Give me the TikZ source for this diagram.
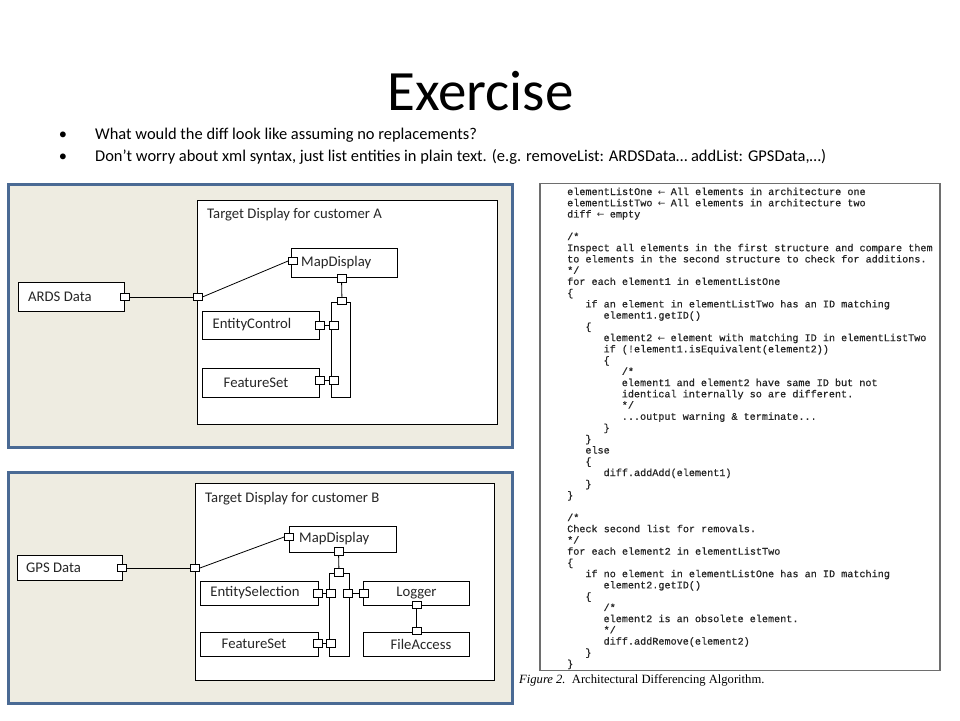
\documentclass[tikz,border=0pt]{standalone}
\usepackage{fontspec}
\setmainfont{Carlito}
\newfontfamily\codefont[FakeBold=0.6]{Liberation Mono}
\newfontfamily\arrfont{DejaVu Sans}
\newfontfamily\capfont{Liberation Serif}
\newcommand\arr{\makebox[6.1pt][c]{\arrfont\fontsize{9}{10}\selectfont ←}}
\definecolor{framebl}{HTML}{4A6A94}
\definecolor{tanbg}{HTML}{EEECE1}
\definecolor{codeln}{HTML}{6E6E6E}
\tikzset{
  panel/.style={draw=framebl, line width=3pt, fill=tanbg},
  inner/.style={draw=black, line width=0.8pt, fill=white},
  comp/.style={draw=black, line width=0.8pt, fill=white, inner sep=0pt},
  port/.style={draw=black, line width=0.8pt, fill=white, minimum width=9pt, minimum height=7.5pt, inner sep=0pt},
  lbl/.style={font=\fontsize{14.7}{16}\selectfont, inner sep=0pt, text=black!85},
  wire/.style={draw=black, line width=0.8pt},
  code/.style={font=\fontsize{10.15}{11}\selectfont\codefont, inner sep=0pt, anchor=base west, text=black!85},
  bul/.style={font=\fontsize{16.45}{18}\selectfont, inner sep=0pt},
}
\newcommand\cl[3]{\node[code] (c#2) at ({567+18.2*#1},{195+11.24*(#2-1)}) {#3};}
\begin{document}
\begin{tikzpicture}[x=1pt,y=-1pt]
\useasboundingbox (0,0) rectangle (960,720);
\fill[white] (0,0) rectangle (960,720);

% title and bullets
\node[font=\fontsize{57}{60}\selectfont, anchor=base, inner sep=0pt] (title) at (480.5,110) {Exercise};
\node[bul, anchor=base] (b1) at (63,139) {•};
\node[bul, anchor=base west] (t1) at (95,139) {What would the diff look like assuming no replacements?};
\node[bul, anchor=base] (b2) at (63,161) {•};
\node[bul, anchor=base west] (t2) at (95,161) {Don’t worry about xml syntax, just list entities in plain text. (e.g. removeList: ARDSData… addList: GPSData,…)};

% ===== top panel =====
\draw[panel] (8.5,184) rectangle (512,447);
\draw[inner] (197,200) rectangle (497,424);
\node[lbl, anchor=base west] (titA) at (207,218) {Target Display for customer A};

\node[comp, minimum width=106pt, minimum height=29pt] (mapA) at (344,262.5) {};
\node[lbl, anchor=west] (mapAt) at (301,262.5) {MapDisplay};
\node[comp, minimum width=106pt, minimum height=29pt] (ards) at (71,296.5) {};
\node[lbl, anchor=west] (ardst) at (28,296.5) {ARDS Data};
\node[comp, minimum width=19pt, minimum height=95pt] (busA) at (340.5,349.5) {};
\node[comp, minimum width=117pt, minimum height=28pt] (ec) at (260.5,325) {};
\node[lbl] (ect) at (252,325) {EntityControl};
\node[comp, minimum width=117pt, minimum height=29pt] (fsA) at (260.5,382.5) {};
\node[lbl] (fsAt) at (256,382.5) {FeatureSet};

\node[port] (ardsp) at (125,297) {};
\node[port] (inAp) at (197.5,297) {};
\node[port] (mapAl) at (293,261) {};
\node[port] (mapAb) at (341.5,278.5) {};
\node[port] (busAt) at (342,301) {};
\node[port] (ecp) at (319.5,325.5) {};
\node[port] (busAec) at (334,325.5) {};
\node[port] (fsAp) at (319.5,380.5) {};
\node[port] (busAfs) at (334,380.5) {};

\draw[wire] (ardsp) -- (inAp);
\draw[wire] (inAp.east) -- (mapAl.west);
\draw[wire] (mapAb) -- (busAt);
\draw[wire] (ecp) -- (busAec);
\draw[wire] (fsAp) -- (busAfs);

% ===== bottom panel =====
\draw[panel] (8.5,472) rectangle (512,703);
\draw[inner] (195,483) rectangle (494,680);
\node[lbl, anchor=base west] (titB) at (205,502) {Target Display for customer B};

\node[comp, minimum width=107pt, minimum height=26pt] (mapB) at (342.5,539) {};
\node[lbl, anchor=west] (mapBt) at (299,539) {MapDisplay};
\node[comp, minimum width=105pt, minimum height=25pt] (gps) at (69.5,567.5) {};
\node[lbl, anchor=west] (gpst) at (26,567.5) {GPS Data};
\node[comp, minimum width=20pt, minimum height=83pt] (busB) at (339,614.5) {};
\node[comp, minimum width=118pt, minimum height=24pt] (es) at (259,593) {};
\node[lbl] (est) at (255,593) {EntitySelection};
\node[comp, minimum width=118pt, minimum height=24pt] (fsB) at (259,644) {};
\node[lbl] (fsBt) at (254,644) {FeatureSet};
\node[comp, minimum width=106pt, minimum height=24pt] (log) at (416,593) {};
\node[lbl] (logt) at (416.5,593) {Logger};
\node[comp, minimum width=106pt, minimum height=24pt] (fa) at (416,644) {};
\node[lbl] (fat) at (421,644) {FileAccess};

\node[port] (gpsp) at (122,568) {};
\node[port] (inBp) at (195,568) {};
\node[port] (mapBl) at (289,537) {};
\node[port] (mapBb) at (338.5,551.5) {};
\node[port] (busBt) at (339,572.5) {};
\node[port] (esp) at (317.5,593.5) {};
\node[port] (busBes) at (331,593.5) {};
\node[port] (busBr) at (348,593.5) {};
\node[port] (logl) at (363.5,593.5) {};
\node[port] (logb) at (416.5,605) {};
\node[port] (fatp) at (416.5,631) {};
\node[port] (fsBp) at (317.5,643.5) {};
\node[port] (busBfs) at (331,643.5) {};

\draw[wire] (gpsp) -- (inBp);
\draw[wire] (inBp.east) -- (mapBl.west);
\draw[wire] (mapBb) -- (busBt);
\draw[wire] (esp) -- (busBes);
\draw[wire] (busBr) -- (logl);
\draw[wire] (logb) -- (fatp);
\draw[wire] (fsBp) -- (busBfs);

% ===== code panel =====
\draw[draw=codeln, line width=1.3pt] (540,183.5) rectangle (940,670.5);
\cl{0}{1}{elementListOne \arr{} All elements in architecture one}
\cl{0}{2}{elementListTwo \arr{} All elements in architecture two}
\cl{0}{3}{diff \arr{} empty}
\cl{0}{5}{/*}
\cl{0}{6}{Inspect all elements in the first structure and compare them}
\cl{0}{7}{to elements in the second structure to check for additions.}
\cl{0}{8}{*/}
\cl{0}{9}{for each element1 in elementListOne}
\cl{0}{10}{\{}
\cl{1}{11}{if an element in elementListTwo has an ID matching}
\cl{2}{12}{element1.getID()}
\cl{1}{13}{\{}
\cl{2}{14}{element2 \arr{} element with matching ID in elementListTwo}
\cl{2}{15}{if (!element1.isEquivalent(element2))}
\cl{2}{16}{\{}
\cl{3}{17}{/*}
\cl{3}{18}{element1 and element2 have same ID but not}
\cl{3}{19}{identical internally so are different.}
\cl{3}{20}{*/}
\cl{3}{21}{...output warning \& terminate...}
\cl{2}{22}{\}}
\cl{1}{23}{\}}
\cl{1}{24}{else}
\cl{1}{25}{\{}
\cl{2}{26}{diff.addAdd(element1)}
\cl{1}{27}{\}}
\cl{0}{28}{\}}
\cl{0}{30}{/*}
\cl{0}{31}{Check second list for removals.}
\cl{0}{32}{*/}
\cl{0}{33}{for each element2 in elementListTwo}
\cl{0}{34}{\{}
\cl{1}{35}{if no element in elementListOne has an ID matching}
\cl{2}{36}{element2.getID()}
\cl{1}{37}{\{}
\cl{2}{38}{/*}
\cl{2}{39}{element2 is an obsolete element.}
\cl{2}{40}{*/}
\cl{2}{41}{diff.addRemove(element2)}
\cl{1}{42}{\}}
\cl{0}{43}{\}}
\node[font=\fontsize{12.6}{14}\selectfont\capfont, anchor=base west, inner sep=0pt] (cap) at (519,683) {\textit{Figure 2.}\ \ Architectural Differencing Algorithm.};
\end{tikzpicture}
\end{document}
